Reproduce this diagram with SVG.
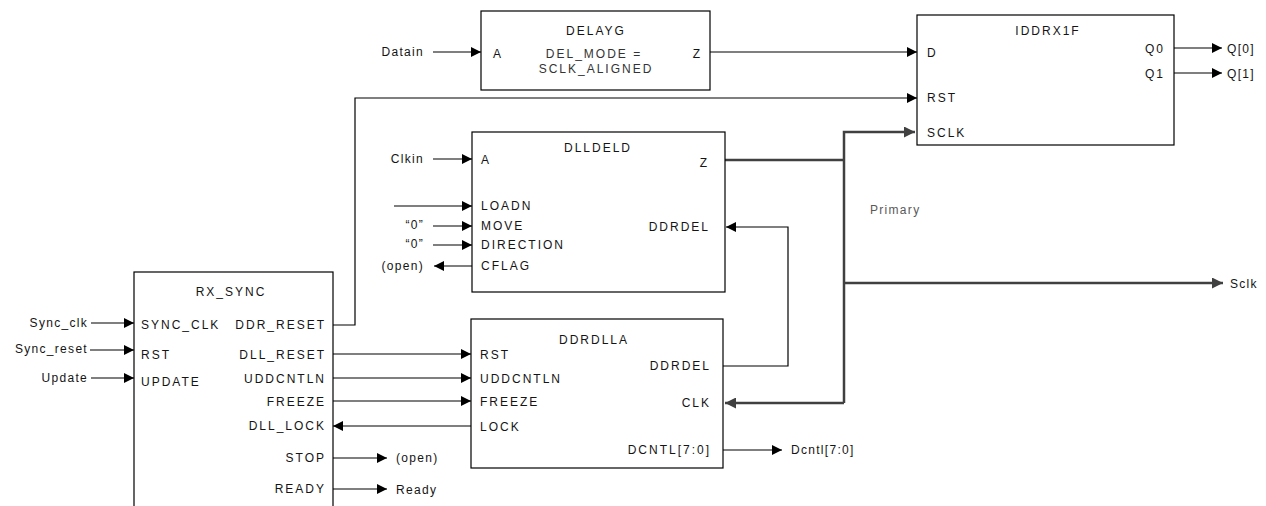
<svg xmlns="http://www.w3.org/2000/svg" width="1266" height="506" viewBox="0 0 1266 506">
<style>
text{font-family:"Liberation Sans",Arial,sans-serif;font-size:12px;fill:#141414;dominant-baseline:central}
.p{letter-spacing:2px}
.s{letter-spacing:1.3px}
.e{text-anchor:end}
.m{text-anchor:middle}
.g{fill:#333}
.box{fill:#fff;stroke:#000;stroke-width:1.2}
.w{fill:none;stroke:#000;stroke-width:1.2}
.t{fill:none;stroke:#404040;stroke-width:2.5}
</style>
<defs>
<marker id="a" viewBox="0 0 10 10" refX="10" refY="5" markerWidth="12" markerHeight="10" markerUnits="userSpaceOnUse" orient="auto"><path d="M0,0L10,5L0,10z" fill="#000"/></marker>
<marker id="b" viewBox="0 0 10 10" refX="10" refY="5" markerWidth="12" markerHeight="11" markerUnits="userSpaceOnUse" orient="auto"><path d="M0,0L10,5L0,10z" fill="#404040"/></marker>
</defs>
<rect width="1266" height="506" fill="#fff"/>

<g id="connectors">
<line class="w" x1="433" y1="52" x2="481" y2="52" marker-end="url(#a)"/>
<line class="w" x1="710" y1="52" x2="917" y2="52" marker-end="url(#a)"/>
<line class="w" x1="1174" y1="48" x2="1222" y2="48" marker-end="url(#a)"/>
<line class="w" x1="1174" y1="73" x2="1222" y2="73" marker-end="url(#a)"/>
<polyline class="w" points="333,325 355,325 355,98 917,98" marker-end="url(#a)"/>
<line class="w" x1="433" y1="159" x2="472" y2="159" marker-end="url(#a)"/>
<line class="w" x1="394" y1="206" x2="472" y2="206" marker-end="url(#a)"/>
<line class="w" x1="433" y1="226" x2="472" y2="226" marker-end="url(#a)"/>
<line class="w" x1="433" y1="245" x2="472" y2="245" marker-end="url(#a)"/>
<line class="w" x1="472" y1="266" x2="434" y2="266" marker-end="url(#a)"/>
<polyline class="t" points="723,160 844,160"/>
<polyline class="t" points="844,403 844,132 915,132" marker-end="url(#b)"/>
<line class="t" x1="844" y1="403" x2="725" y2="403" marker-end="url(#b)"/>
<line class="t" x1="844" y1="283" x2="1223" y2="283" marker-end="url(#b)"/>
<polyline class="w" points="723,366 788,366 788,227 726,227" marker-end="url(#a)"/>
<line class="w" x1="91" y1="323" x2="134" y2="323" marker-end="url(#a)"/>
<line class="w" x1="90" y1="350" x2="134" y2="350" marker-end="url(#a)"/>
<line class="w" x1="91" y1="378" x2="134" y2="378" marker-end="url(#a)"/>
<line class="w" x1="333" y1="354" x2="471" y2="354" marker-end="url(#a)"/>
<line class="w" x1="333" y1="378" x2="471" y2="378" marker-end="url(#a)"/>
<line class="w" x1="333" y1="401" x2="471" y2="401" marker-end="url(#a)"/>
<line class="w" x1="471" y1="426" x2="333" y2="426" marker-end="url(#a)"/>
<line class="w" x1="333" y1="458" x2="387" y2="458" marker-end="url(#a)"/>
<line class="w" x1="333" y1="489" x2="387" y2="489" marker-end="url(#a)"/>
<line class="w" x1="723" y1="450" x2="782" y2="450" marker-end="url(#a)"/>
</g>

<g id="DELAYG">
<rect class="box" x="481" y="11" width="229" height="79"/>
<text class="p m" x="596" y="31">DELAYG</text>
<text class="p" x="493" y="54">A</text>
<text class="p e" x="702" y="54">Z</text>
<text class="p m g" x="594" y="54">DEL_MODE =</text>
<text class="p m g" x="596" y="69">SCLK_ALIGNED</text>
</g>

<g id="IDDRX1F">
<rect class="box" x="917" y="15" width="257" height="130"/>
<text class="p m" x="1048" y="31">IDDRX1F</text>
<text class="p" x="927" y="53">D</text>
<text class="p" x="927" y="98">RST</text>
<text class="p" x="927" y="133">SCLK</text>
<text class="p e" x="1165" y="49">Q0</text>
<text class="p e" x="1165" y="74">Q1</text>
</g>

<g id="DLLDELD">
<rect class="box" x="472" y="132" width="253" height="160"/>
<text class="p m" x="598" y="148">DLLDELD</text>
<text class="p" x="481" y="160">A</text>
<text class="p e" x="709" y="163">Z</text>
<text class="p" x="481" y="206">LOADN</text>
<text class="p" x="481" y="226">MOVE</text>
<text class="p" x="481" y="245">DIRECTION</text>
<text class="p" x="481" y="266">CFLAG</text>
<text class="p e" x="710" y="227">DDRDEL</text>
</g>

<g id="RX_SYNC">
<rect class="box" x="134" y="272" width="199" height="260"/>
<text class="p m" x="231" y="292">RX_SYNC</text>
<text class="p" x="141" y="325">SYNC_CLK</text>
<text class="p" x="141" y="355">RST</text>
<text class="p" x="141" y="382">UPDATE</text>
<text class="p e" x="326" y="325">DDR_RESET</text>
<text class="p e" x="326" y="355">DLL_RESET</text>
<text class="p e" x="326" y="379">UDDCNTLN</text>
<text class="p e" x="326" y="402">FREEZE</text>
<text class="p e" x="326" y="426">DLL_LOCK</text>
<text class="p e" x="326" y="458">STOP</text>
<text class="p e" x="326" y="489">READY</text>
</g>

<g id="DDRDLLA">
<rect class="box" x="471" y="319" width="252" height="149"/>
<text class="p m" x="594" y="340">DDRDLLA</text>
<text class="p" x="480" y="355">RST</text>
<text class="p" x="480" y="379">UDDCNTLN</text>
<text class="p" x="480" y="402">FREEZE</text>
<text class="p" x="480" y="427">LOCK</text>
<text class="p e" x="711" y="366">DDRDEL</text>
<text class="p e" x="711" y="403">CLK</text>
<text class="p e" x="711" y="450">DCNTL[7:0]</text>
</g>

<g id="labels">
<text class="s e" x="424" y="52">Datain</text>
<text class="s e" x="424" y="159">Clkin</text>
<text class="s e" x="424" y="225">“0”</text>
<text class="s e" x="424" y="244">“0”</text>
<text class="s e" x="424" y="266">(open)</text>
<text class="s e" x="88" y="323">Sync_clk</text>
<text class="s e" x="88" y="349">Sync_reset</text>
<text class="s e" x="88" y="378">Update</text>
<text class="s" x="396" y="458">(open)</text>
<text class="s" x="396" y="490">Ready</text>
<text class="s" x="791" y="450">Dcntl[7:0]</text>
<text class="s" x="1227" y="49">Q[0]</text>
<text class="s" x="1227" y="74">Q[1]</text>
<text class="s" x="1230" y="284">Sclk</text>
<text class="s" x="870" y="210" style="fill:#595959">Primary</text>
</g>
</svg>
